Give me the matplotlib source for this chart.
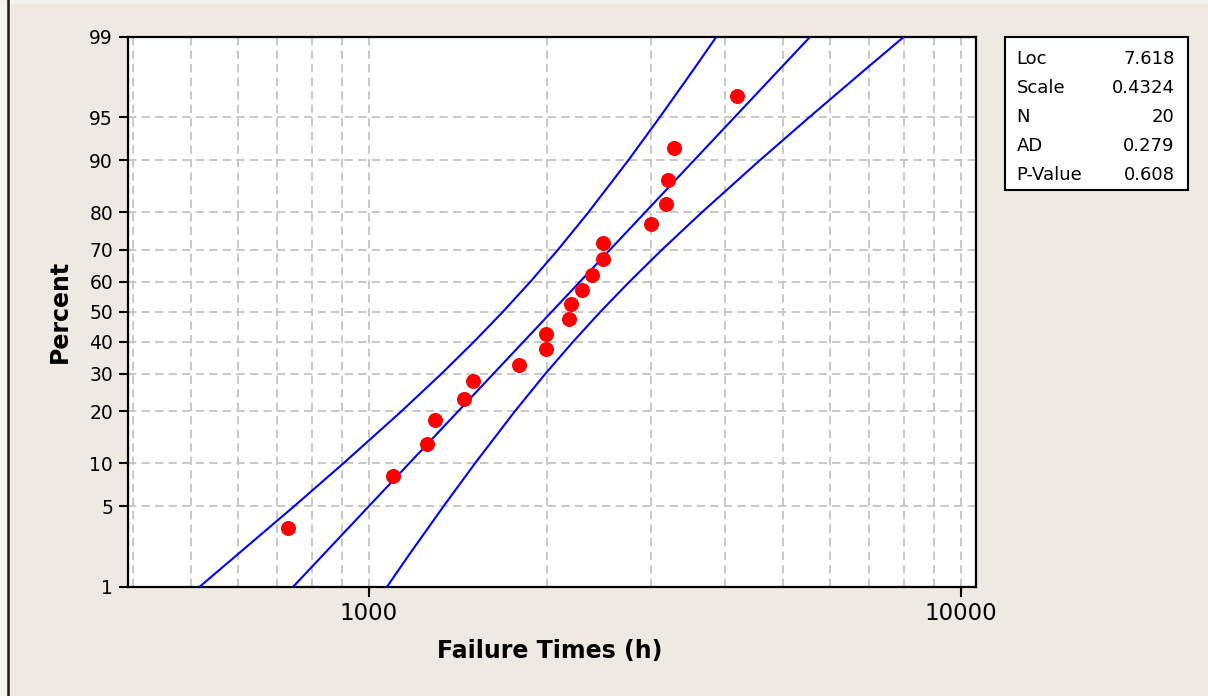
import numpy as np
import matplotlib
matplotlib.use("Agg")
from matplotlib import pyplot as plt
from matplotlib.patches import Rectangle
from matplotlib.lines import Line2D
from matplotlib.ticker import LogLocator, NullLocator, NullFormatter
from statistics import NormalDist

plt.rcParams['font.family'] = ['DejaVu Sans']

# lognormal fit results
LOC = 7.618
SCALE = 0.4324
STATS = [("Loc", "7.618"), ("Scale", "0.4324"), ("N", "20"),
         ("AD", "0.279"), ("P-Value", "0.608")]

# failure times (h) and plotting positions (%)
times = [731, 1099, 1252, 1293, 1449, 1497, 1792, 1993, 1993, 2179,
         2196, 2287, 2384, 2485, 2485, 2999, 3171, 3203, 3279, 4189]
percent = [3.4, 8.3, 13.2, 18.1, 23.0, 27.9, 32.8, 37.7, 42.6, 47.5,
           52.5, 57.4, 62.3, 67.2, 72.1, 77.0, 81.9, 86.8, 91.7, 96.6]

# 95% confidence band
band_pct = [1, 2, 5, 10, 20, 30, 40, 50, 60, 70, 80, 90, 95, 98, 99]
band_lo = [517, 599, 747, 905, 1134, 1325, 1504, 1683, 1872, 2085,
           2348, 2742, 3098, 3540, 3862]
band_hi = [1072, 1169, 1336, 1510, 1763, 1985, 2211, 2459, 2752, 3124,
           3650, 4573, 5541, 6906, 8012]

fit_pct = [1, 99]

pct_ticks = [1, 5, 10, 20, 30, 40, 50, 60, 70, 80, 90, 95, 99]
x_ticks = [1000, 10000]

_nd = NormalDist()


def pct_to_z(p):
    p = np.clip(np.asarray(p, dtype=float) / 100.0, 1e-6, 1 - 1e-6)
    return np.vectorize(_nd.inv_cdf, otypes=[float])(p)


def z_to_pct(z):
    return np.vectorize(_nd.cdf, otypes=[float])(np.asarray(z, dtype=float)) * 100.0


BG = '#EEEAE1'
W, H = 1208, 696
fig = plt.figure(figsize=(W / 100, H / 100), dpi=100, facecolor=BG)

# window edge on the left and light strip on top
fig.add_artist(Rectangle((0, 0), 7 / W, 1, transform=fig.transFigure,
                         facecolor='#F6F4EE', edgecolor='none'))
fig.add_artist(Rectangle((0, 1 - 4 / H), 1, 4 / H, transform=fig.transFigure,
                         facecolor='#F3F1EB', edgecolor='none'))
fig.add_artist(Line2D([8.3 / W, 8.3 / W], [0, 1], transform=fig.transFigure,
                      color='#1A1A1A', lw=1.8))

ax = fig.add_axes([127.7 / W, 1 - 587 / H, (975.7 - 127.7) / W, (587 - 36.7) / H])
ax.set_facecolor('white')
ax.set_xscale('log')
ax.set_yscale('function', functions=(pct_to_z, z_to_pct))
ax.set_xlim(391.3, 10588)
ax.set_ylim(1, 99)

fit_x = np.exp(LOC + SCALE * pct_to_z(fit_pct))
ax.plot(band_lo, band_pct, color='#0000FF', lw=1.5, zorder=3)
ax.plot(band_hi, band_pct, color='#0000FF', lw=1.5, zorder=3)
ax.plot(fit_x, fit_pct, color='#0000FF', lw=1.5, zorder=3)
ax.plot(times, percent, 'o', color='#FF0000', markersize=10.8,
        markeredgewidth=0, zorder=4)

ax.set_yticks(pct_ticks)
ax.set_yticklabels([str(t) for t in pct_ticks])
ax.yaxis.set_minor_locator(NullLocator())
ax.set_xticks(x_ticks)
ax.set_xticklabels([str(t) for t in x_ticks])
ax.xaxis.set_minor_locator(LogLocator(base=10, subs=np.arange(2, 10)))
ax.xaxis.set_minor_formatter(NullFormatter())

ax.tick_params(axis='y', which='major', length=6.5, width=1.5, pad=4,
               labelsize=13.5, colors='black')
ax.tick_params(axis='x', which='major', length=7, width=1.5, pad=4,
               labelsize=16.5, colors='black')
ax.tick_params(axis='x', which='minor', length=0)

grid_kw = dict(color='#C4C4C4', lw=1.3, linestyle=(0, (4.6, 2.9)))
ax.grid(True, which='both', axis='x', **grid_kw)
ax.grid(True, which='major', axis='y', **grid_kw)
ax.set_axisbelow(True)

for s in ax.spines.values():
    s.set_linewidth(1.6)
    s.set_color('black')

ax.set_xlabel("Failure Times (h)", fontsize=17, fontweight='bold')
ax.xaxis.set_label_coords(0.498, -0.094)
ax.set_ylabel("Percent", fontsize=17, fontweight='bold')
ax.yaxis.set_label_coords(-0.066, 0.5)

# statistics box
bx0, by0, bx1, by1 = 1005, 36.7, 1187.7, 190
fig.add_artist(Rectangle((bx0 / W, 1 - by1 / H), (bx1 - bx0) / W, (by1 - by0) / H,
                         transform=fig.transFigure, facecolor='white',
                         edgecolor='black', lw=1.5))
for i, (name, val) in enumerate(STATS):
    yb = 1 - (63.5 + i * 29.2) / H
    fig.text(1016.5 / W, yb, name, fontsize=13, ha='left', va='baseline')
    fig.text(1174.5 / W, yb, val, fontsize=13, ha='right', va='baseline')

fig.savefig('out.png', dpi=100, facecolor=BG)
